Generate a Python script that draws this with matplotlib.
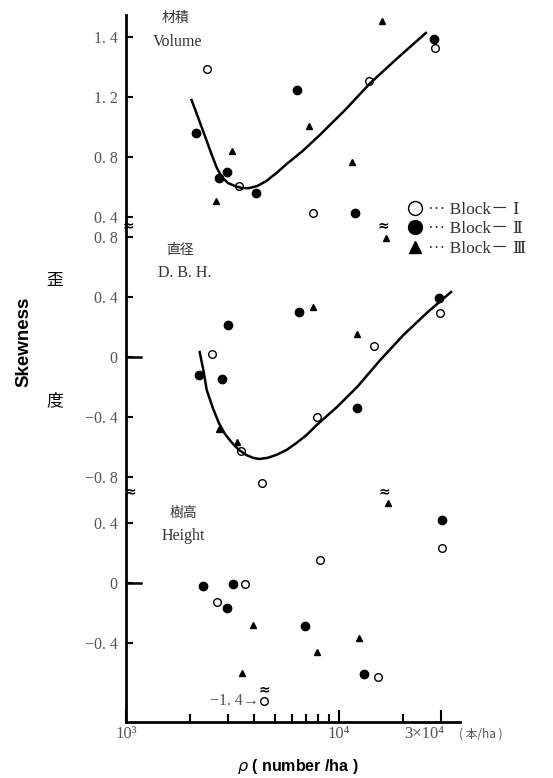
import matplotlib
matplotlib.use("Agg")
import matplotlib.pyplot as plt
from matplotlib.lines import Line2D

# 立木密度と歪度 (Volume / D.B.H. / Height)
# Volume
vol_open_x = [2395, 3400, 7530, 13870, 28200]
vol_open_y = [1.39, 0.61, 0.43, 1.31, 1.53]
vol_fill_x = [2124, 2730, 2980, 4080, 6320, 11900, 27900]
vol_fill_y = [0.96, 0.66, 0.70, 0.56, 1.25, 0.43, 1.59]
vol_tri_x = [2640, 3150, 7210, 11530, 16000]
vol_tri_y = [0.51, 0.84, 1.01, 0.77, 1.71]
vol_curve_x = [2032, 2194, 2366, 2529, 2672, 2818, 3011, 3251, 3508, 3786, 4130,
               4558, 5082, 5672, 6745, 8125, 10670, 14020, 18830, 25570]
vol_curve_y = [1.18, 1.053, 0.927, 0.813, 0.727, 0.667, 0.627, 0.607, 0.593, 0.593, 0.607,
               0.64, 0.693, 0.753, 0.84, 0.947, 1.113, 1.293, 1.46, 1.627]

# D.B.H.
dbh_open_x = [2530, 3470, 4370, 7870, 14650, 29800]
dbh_open_y = [0.02, -0.63, -0.84, -0.40, 0.07, 0.29]
dbh_fill_x = [3016, 2193, 2820, 6460, 12170, 29400]
dbh_fill_y = [0.21, -0.12, -0.15, 0.30, -0.34, 0.39]
dbh_tri_x = [2730, 3320, 7530, 12170, 16700]
dbh_tri_y = [-0.48, -0.57, 0.33, 0.15, 0.79]
dbh_curve_x = [2218, 2317, 2393, 2557, 2729, 2913, 3148, 3395, 3664, 3954, 4224, 4610,
               5082, 5672, 6324, 7047, 7870, 9795, 12170, 15630, 20090, 26120, 33570]
dbh_curve_y = [0.033, -0.10, -0.22, -0.34, -0.44, -0.513, -0.573, -0.62, -0.653, -0.673, -0.68, -0.673,
               -0.653, -0.62, -0.573, -0.52, -0.453, -0.333, -0.20, -0.02, 0.147, 0.30, 0.433]

# Height
hgt_open_x = [3620, 2675, 4460, 30400, 8130, 15300]
hgt_open_y = [-0.01, -0.13, -0.79, 0.23, 0.15, -0.63]
hgt_fill_x = [2293, 3180, 2980, 30400, 6900, 13130]
hgt_fill_y = [-0.02, -0.01, -0.17, 0.42, -0.29, -0.61]
hgt_tri_x = [3950, 3510, 7870, 12450, 17060]
hgt_tri_y = [-0.28, -0.60, -0.46, -0.37, 0.53]

vol_ticks = [0.4, 0.8, 1.2, 1.6]
vol_ticklabels = ['0. 4', '0. 8', '1. 2', '1. 4']   # printed like this in the original
dbh_ticks = [-0.8, -0.4, 0, 0.4, 0.8]
dbh_ticklabels = ['−0. 8', '−0. 4', '0', '0. 4', '0. 8']
hgt_ticks = [-0.4, 0, 0.4]
hgt_ticklabels = ['−0. 4', '0', '0. 4']

SERIF = ['Liberation Serif', 'DejaVu Serif', 'Noto Sans CJK JP']
CJK = ['Noto Sans CJK JP', 'DejaVu Sans']
W, H = 553, 778
GREY = '#555555'

fig = plt.figure(figsize=(5.53, 7.78), dpi=100)


def px_axes(top, bottom):
    return fig.add_axes([126 / W, 1 - bottom / H, (460 - 126) / W, (bottom - top) / H])


def ftext(px, py, s, **kw):
    fig.text(px / W, 1 - py / H, s, **kw)


ax_v = px_axes(15, 225)
ax_d = px_axes(228, 490)
ax_h = px_axes(493, 722)

panels = [
    (ax_v, (0.347, 1.747), vol_ticks, vol_ticklabels,
     (vol_open_x, vol_open_y), (vol_fill_x, vol_fill_y), (vol_tri_x, vol_tri_y)),
    (ax_d, (-0.887, 0.86), dbh_ticks, dbh_ticklabels,
     (dbh_open_x, dbh_open_y), (dbh_fill_x, dbh_fill_y), (dbh_tri_x, dbh_tri_y)),
    (ax_h, (-0.927, 0.60), hgt_ticks, hgt_ticklabels,
     (hgt_open_x, hgt_open_y), (hgt_fill_x, hgt_fill_y), (hgt_tri_x, hgt_tri_y)),
]

for ax, ylim, ticks, labels, op, fi, tr in panels:
    ax.set_xscale('log')
    ax.set_xlim(1000, 37000)
    ax.set_ylim(*ylim)
    ax.patch.set_alpha(0)
    for s in ['top', 'right', 'bottom']:
        ax.spines[s].set_visible(False)
    ax.spines['left'].set_linewidth(2)
    ax.set_yticks(ticks)
    ax.set_yticklabels(labels, fontfamily=SERIF, fontsize=11.5, color=GREY)
    ax.tick_params(axis='y', direction='in', length=5, width=1.5, pad=6)
    ax.tick_params(axis='x', which='both', bottom=False, labelbottom=False)
    ax.plot(op[0], op[1], 'o', mfc='white', mec='black', ms=5.5, mew=1.0, ls='none')
    ax.plot(fi[0], fi[1], 'o', color='black', ms=6, ls='none')
    ax.plot(tr[0], tr[1], '^', color='black', ms=5, ls='none')

ax_v.plot(vol_curve_x, vol_curve_y, color='black', lw=1.8, solid_joinstyle='round')
ax_d.plot(dbh_curve_x, dbh_curve_y, color='black', lw=1.8, solid_joinstyle='round')
for ax in (ax_d, ax_h):
    ax.axhline(0, xmin=0, xmax=0.045, color='black', lw=1.8)

# bottom axis
ax_h.spines['bottom'].set_visible(True)
ax_h.spines['bottom'].set_linewidth(2)
ax_h.set_xticks([1e3, 1e4, 3e4])
ax_h.set_xticklabels(['10³', '10⁴', ''], fontfamily=SERIF, fontsize=12, color=GREY)
ax_h.set_xticks([2e3, 3e3, 4e3, 5e3, 6e3, 7e3, 8e3, 9e3, 2e4], minor=True)
ax_h.xaxis.set_minor_formatter(plt.NullFormatter())
ax_h.tick_params(axis='x', which='major', bottom=True, labelbottom=True,
                 direction='in', length=9, width=1.5, pad=3)
ax_h.tick_params(axis='x', which='minor', bottom=True, direction='in', length=6, width=1.5)
ax_h.annotate('3×10⁴', xy=(3e4, 0), xycoords=('data', 'axes fraction'),
              xytext=(-26, -3), textcoords='offset points', ha='left', va='top',
              fontfamily=SERIF, fontsize=12, color=GREY)
ax_h.annotate('( 本/ha )', xy=(3e4, 0), xycoords=('data', 'axes fraction'),
              xytext=(13, -4), textcoords='offset points', ha='left', va='top',
              fontfamily=CJK, fontsize=8.5, color=GREY)
ax_h.annotate('−1. 4→', xy=(hgt_open_x[2], hgt_open_y[2]), xytext=(-4, 0),
              textcoords='offset points', ha='right', va='center',
              fontfamily=SERIF, fontsize=11.5, color=GREY)

# axis labels
ftext(298, 767, r'$\rho$ ( number /ha )', ha='center', va='center',
      fontsize=11.5, fontweight='bold', fontfamily=['Liberation Sans', 'DejaVu Sans'])
ftext(24, 342, 'Skewness', rotation=90, ha='center', va='center',
      fontsize=13.5, fontweight='bold', fontfamily=['Liberation Sans', 'DejaVu Sans'])
ftext(55, 280, '歪', ha='center', va='center', fontsize=12, fontfamily=CJK)
ftext(55, 401, '度', ha='center', va='center', fontsize=12, fontfamily=CJK)

# panel names
ftext(175, 18, '材積', ha='center', va='center', fontsize=10, fontfamily=CJK, color='#333')
ftext(178, 42, 'Volume', ha='center', va='center', fontsize=11.5, fontfamily=SERIF, color='#333')
ftext(180, 250, '直径', ha='center', va='center', fontsize=10, fontfamily=CJK, color='#333')
ftext(185, 273, 'D. B. H.', ha='center', va='center', fontsize=11.5, fontfamily=SERIF, color='#333')
ftext(183, 513, '樹高', ha='center', va='center', fontsize=10, fontfamily=CJK, color='#333')
ftext(183, 536, 'Height', ha='center', va='center', fontsize=11.5, fontfamily=SERIF, color='#333')

# axis breaks and off-scale marks
for px, py in [(128, 225), (130, 491), (383, 225), (384, 491), (264, 689)]:
    ftext(px, py, '≈', ha='center', va='center', fontsize=10, fontweight='bold',
          fontfamily=['DejaVu Sans'])

# legend
handles = [
    Line2D([], [], marker='o', ls='none', mfc='white', mec='black', ms=10, mew=1.0),
    Line2D([], [], marker='o', ls='none', color='black', ms=10),
    Line2D([], [], marker='^', ls='none', color='black', ms=9),
]
labels = ['··· Block－ Ⅰ', '··· Block－ Ⅱ', '··· Block－ Ⅲ']
fig.legend(handles, labels, loc='upper left', bbox_to_anchor=(408 / W, 1 - 202 / H),
           frameon=False, prop=dict(family=SERIF, size=12.5), handlelength=0.8,
           handletextpad=0.35, labelspacing=0.18, borderpad=0, borderaxespad=0,
           labelcolor='#333')

fig.savefig('out.png', dpi=100)
